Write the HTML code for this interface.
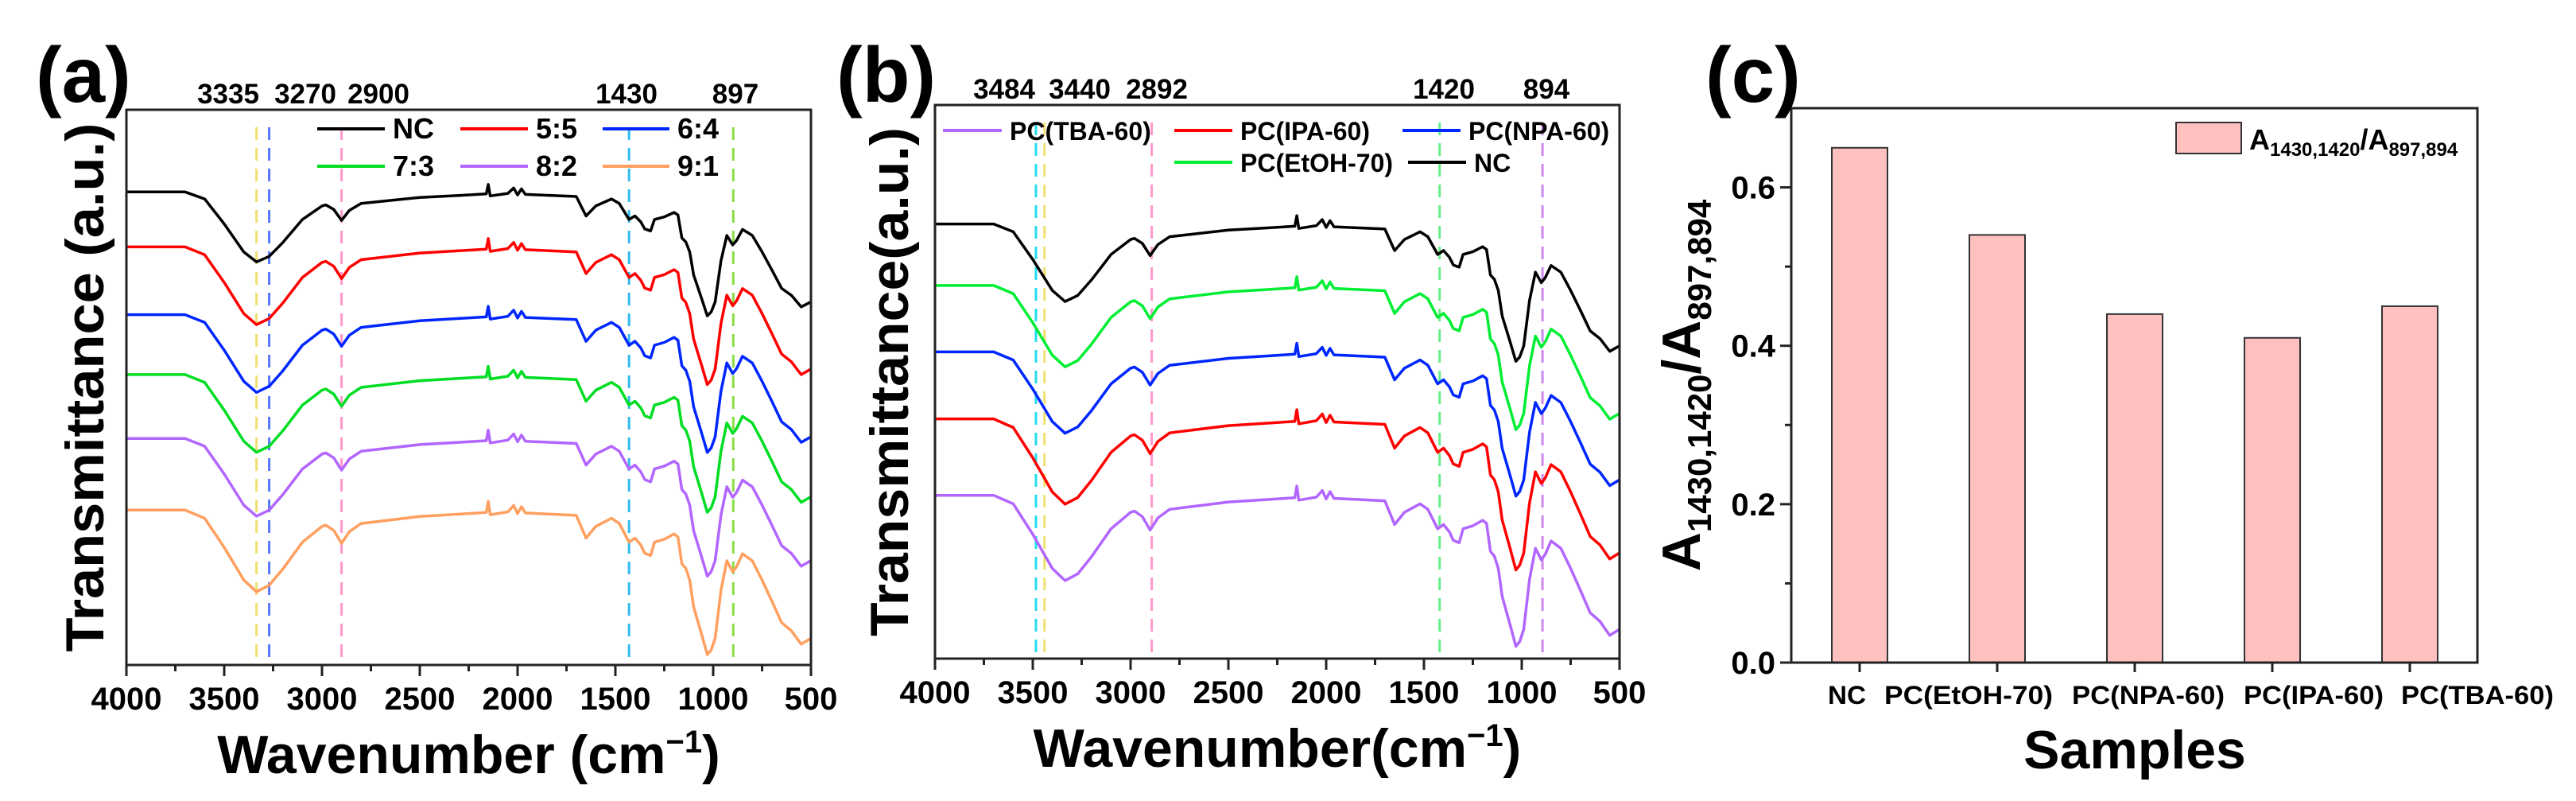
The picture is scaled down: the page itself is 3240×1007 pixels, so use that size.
<!DOCTYPE html>
<html><head><meta charset="utf-8"><style>
html,body{margin:0;padding:0;background:#fff;}
svg{display:block;font-family:"Liberation Sans",Arial,sans-serif;font-weight:bold;}
</style></head><body>
<svg id="fig" width="3240" height="1007" viewBox="0 0 3240 1007" xmlns="http://www.w3.org/2000/svg"></svg>
<script>
// ---------- data ----------
const wavenumbers = [4000,3700,3600,3500,3400,3335,3270,3200,3100,3000,2980,2940,2900,2860,2800,2500,2300,2160,2150,2140,2050,2020,2000,1980,1960,1700,1650,1600,1520,1480,1430,1400,1370,1350,1320,1300,1250,1200,1180,1160,1140,1120,1100,1060,1030,1010,990,960,930,900,880,850,800,750,700,650,600,550,500];
const depthProfile = [0,0,1.4,6.4,12,14,12.9,10.1,5.5,2.8,2.6,3.5,5.7,3.7,2.3,1.1,0.7,0.4,-1.5,0.8,0.3,-0.8,0.6,-0.6,0.5,0.9,4.8,2.8,1.4,2.3,5.5,4.8,6,7.4,7.8,5.5,5,4.1,4.6,9.2,10,12,16.6,21.2,24.8,24,22,13.8,8.7,10.6,9.7,7.5,8.7,12,15.6,19.3,20.7,23,22];
const seriesA = ["NC","5:5","6:4","7:3","8:2","9:1"];
const baselineA = [85.2,75.3,63.1,52.3,40.8,27.9];
const scaleA = [0.9,1.0,1.0,1.0,1.0,1.05];
const colorsA = ["#000000","#ff0000","#0026ff","#00dd22","#b266ff","#ffa060"];
const peaksA = [3335,3270,2900,1430,897];
const peakColorsA = ["#f0e070","#5577ff","#ff99cc","#33bbee","#88dd44"];
const seriesB = ["NC","PC(EtOH-70)","PC(NPA-60)","PC(IPA-60)","PC(TBA-60)"];
const baselineB = [78.5,67.4,55.4,43.3,29.5];
const scaleB = [1.0,1.05,1.05,1.1,1.1];
const colorsB = ["#000000","#00ee33","#0026ff","#ff0000","#b266ff"];
const peaksB = [3484,3440,2892,1420,894];
const peakColorsB = ["#22ddee","#f0e070","#ff99cc","#66ee88","#cc88ee"];
const samplesC = ["NC","PC(EtOH-70)","PC(NPA-60)","PC(IPA-60)","PC(TBA-60)"];
const ratiosC = [0.65,0.54,0.44,0.41,0.45];
const xTicks = [4000,3500,3000,2500,2000,1500,1000,500];
const yTicksC = [0.0,0.2,0.4,0.6];

// ---------- helpers ----------
const NS="http://www.w3.org/2000/svg";
const svg=document.getElementById('fig');
function mk(tag,attrs,parent){const e=document.createElementNS(NS,tag);for(const k in attrs)e.setAttribute(k,attrs[k]);(parent||svg).appendChild(e);return e;}
function txt(s,attrs,parent){const e=mk('text',attrs,parent);e.textContent=s;return e;}

function spectrumPanel(o){
  const g=mk('g',{});
  
  
  const X=w=>o.x0+(4000-w)/3500*(o.x1-o.x0);
  const Y=v=>o.y1-v/100*(o.y1-o.y0);
  o.peaks.forEach((p,i)=>{
    const l=mk('line',{x1:X(p),x2:X(p),y1:o.y0+o.dashTop,y2:o.y1,stroke:o.peakColors[i],'stroke-width':3,'stroke-dasharray':'16,10'},g);
    
    
    const t=txt(String(p),{x:o.peakLabelX[i],y:o.y0-8,'font-size':35,'text-anchor':'middle'},g);
    
    
  });
  o.names.forEach((n,si)=>{
    let d='';
    wavenumbers.forEach((w,i)=>{const v=o.base[si]-depthProfile[i]*o.scale[si];d+=(i?'L':'M')+X(w).toFixed(1)+','+Y(v).toFixed(1);});
    const p=mk('path',{d:d,fill:'none',stroke:o.colors[si],'stroke-width':3.5,'stroke-linejoin':'round'},g);
    
    
  });
  const box=mk('rect',{x:o.x0,y:o.y0,width:o.x1-o.x0,height:o.y1-o.y0,fill:'none',stroke:'#222','stroke-width':3},g);
  
  
  for(let w=4000;w>=500;w-=250){
    const major=w%500===0;
    mk('line',{x1:X(w),x2:X(w),y1:o.y1,y2:o.y1+(major?14:8),stroke:'#222','stroke-width':3},g);
  }
  xTicks.forEach(w=>{
    const t=txt(String(w),{x:X(w),y:o.y1+56,'font-size':40,'text-anchor':'middle'},g);
    
    
  });
  o.legend.forEach((L,i)=>{
    mk('line',{x1:L[1],x2:L[2],y1:L[3],y2:L[3],stroke:o.colors[L[0]],'stroke-width':4},g);
    const t=txt(o.names[L[0]],{x:L[2]+10,y:L[3]+12,'font-size':o.legFont},g);
    
    
  });
  const xt=txt('',{x:(o.x0+o.x1)/2,y:o.y1+136,'font-size':68,'text-anchor':'middle'},g);
  xt.innerHTML=o.xTitle+'(cm<tspan dy="-26" font-size="40">−1</tspan><tspan dy="26">)</tspan>';
  
  
  const yt=txt(o.yTitle,{x:0,y:0,'font-size':68,'text-anchor':'middle',transform:'translate('+(o.ytx)+','+((o.y0+o.y1)/2)+') rotate(-90)',textLength:o.ytLen,lengthAdjust:'spacingAndGlyphs'},g);
  
  
  const pl=txt(o.label,{x:o.lx,y:128,'font-size':98},g);
  
  
}

spectrumPanel({name:'panel-a',x0:159,x1:1020,y0:138,y1:836,names:seriesA,base:baselineA,scale:scaleA,colors:colorsA,
  peaks:peaksA,peakColors:peakColorsA,peakLabelX:[287,384,476,788,925],dashTop:22,legFont:36,
  legend:[[0,399,484,162],[1,579,664,162],[2,758,842,162],[3,399,484,209],[4,579,664,209],[5,758,842,209]],
  xTitle:'Wavenumber ',yTitle:'Transmittance (a.u.)',ytx:130,ytLen:665,label:'(a)',lx:45});
spectrumPanel({name:'panel-b',x0:1176,x1:2037,y0:132,y1:828,names:seriesB,base:baselineB,scale:scaleB,colors:colorsB,
  peaks:peaksB,peakColors:peakColorsB,peakLabelX:[1263,1358,1455,1816,1945],dashTop:22,legFont:32,
  legend:[[4,1186,1260,164],[3,1477,1550,164],[2,1764,1837,164],[1,1477,1550,204],[0,1771,1844,204]],
  xTitle:'Wavenumber',yTitle:'Transmittance(a.u.)',ytx:1142,ytLen:640,label:'(b)',lx:1052});

// ---------- panel c ----------
(function(){
  const g=mk('g',{});
  
  
  const x0=2253,x1=3116,y0=136,y1=833;
  const Y=v=>y1-v/0.7*(y1-y0);
  const X=i=>2339+i*173;
  const labelShift=[-16,-36,17,52,85];
  const labelWidth=[48,212,192,176,192];
  ratiosC.forEach((v,i)=>{
    const r=mk('rect',{x:X(i)-35,y:Y(v),width:70,height:y1-Y(v),fill:'#ffc0c0',stroke:'#333','stroke-width':2},g);
    
    
    mk('line',{x1:X(i),x2:X(i),y1:y1,y2:y1+12,stroke:'#222','stroke-width':3},g);
    const t=txt(samplesC[i],{x:X(i)+labelShift[i],y:y1+52,'font-size':32,'text-anchor':'middle',textLength:labelWidth[i],lengthAdjust:'spacingAndGlyphs'},g);
    
    
  });
  const box=mk('rect',{x:x0,y:y0,width:x1-x0,height:y1-y0,fill:'none',stroke:'#222','stroke-width':3},g);
  
  
  for(let k=0;k<=7;k++){const v=k/10;mk('line',{x1:x0-(k%2?8:14),x2:x0,y1:Y(v),y2:Y(v),stroke:'#222','stroke-width':3},g);}
  yTicksC.forEach(v=>{
    const t=txt(v.toFixed(1),{x:x0-20,y:Y(v)+14,'font-size':40,'text-anchor':'end'},g);
    
    
  });
  const lb=mk('rect',{x:2737,y:154,width:82,height:39,fill:'#ffc0c0',stroke:'#333','stroke-width':2},g);
  
  
  const lt=txt('',{x:2829,y:188,'font-size':36},g);
  lt.innerHTML='A<tspan font-size="24" dy="8">1430,1420</tspan><tspan dy="-8">/A</tspan><tspan font-size="24" dy="8">897,894</tspan>';
  
  
  const xt=txt('Samples',{x:2685,y:966,'font-size':68,'text-anchor':'middle'},g);
  
  
  const yt=txt('',{x:0,y:0,'font-size':68,'text-anchor':'middle',transform:'translate(2138,'+((y0+y1)/2)+') rotate(-90)'},g);
  yt.innerHTML='A<tspan font-size="42" dy="14">1430,1420</tspan><tspan dy="-14">/A</tspan><tspan font-size="42" dy="14">897,894</tspan>';
  
  
  const pl=txt('(c)',{x:2145,y:128,'font-size':98},g);
  
  
})();
</script>
</body></html>
